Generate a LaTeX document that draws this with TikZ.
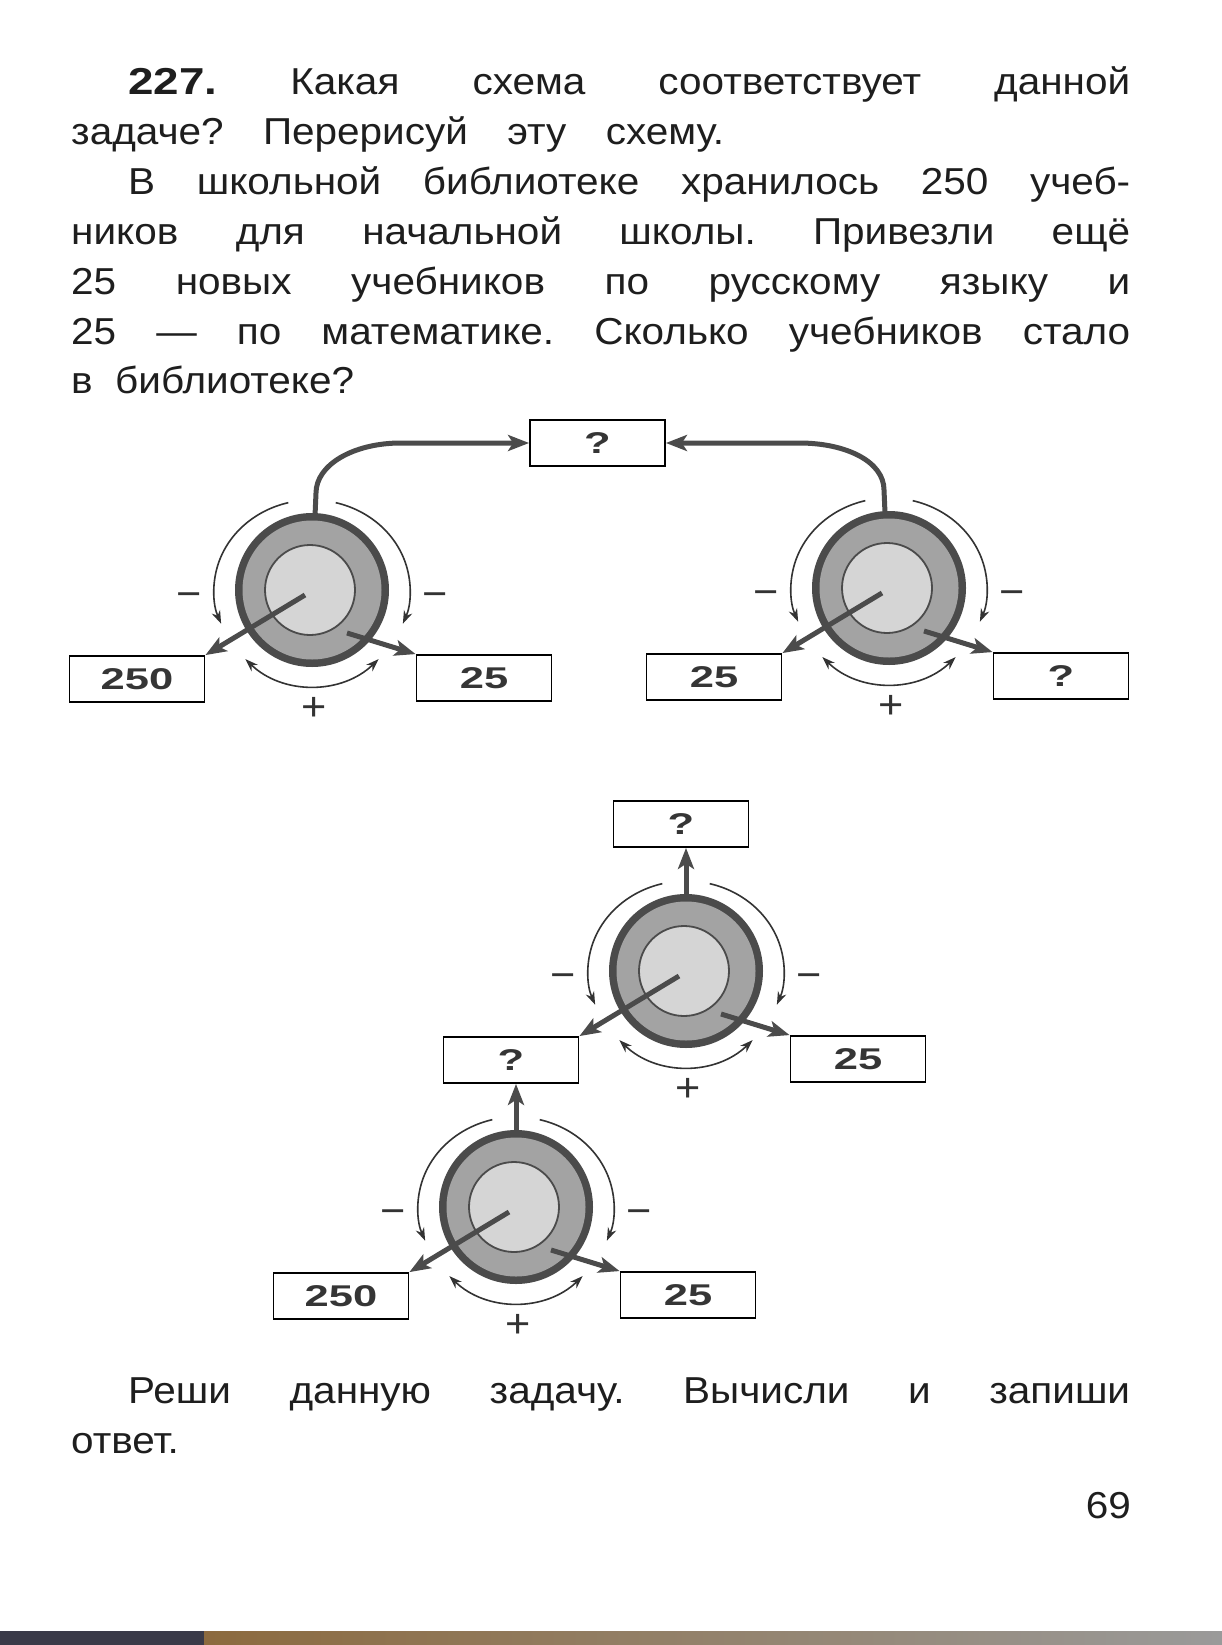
\documentclass[tikz,border=0pt]{standalone}
\usepackage{fontspec}
\setmainfont[FakeStretch=1.08]{Liberation Sans}
\newfontfamily\numfont[FakeStretch=1.22]{Liberation Sans}
\newfontfamily\boxfont[FakeStretch=1.45]{Liberation Sans}
\usetikzlibrary{arrows.meta,calc}
\frenchspacing
\definecolor{txt}{HTML}{1E1E1E}
\definecolor{boxtxt}{HTML}{353535}
\definecolor{ringdark}{HTML}{4B4B4B}
\definecolor{ringmid}{HTML}{A3A3A3}
\definecolor{innerfill}{HTML}{D5D5D5}
\definecolor{arcgray}{HTML}{333333}
\definecolor{stripdark}{HTML}{3A3A48}
\definecolor{stripbrown}{HTML}{8C6A3E}
\definecolor{stripgray}{HTML}{9A9A9A}
\newcommand\diskunit[2]{%
  \coordinate (#1) at (#2);
  \fill[ringdark] (#1) circle (77);
  \fill[ringmid] (#1) circle (69.5);
  \draw[innerc] ($(#1)+(-2,0)$) circle (45);
}
\newcommand\signarcs[1]{%
  \draw[thinarrow] ($(#1)+(104:98 and 90)$) arc[start angle=104, end angle=202, x radius=98, y radius=90];
  \draw[thinarrow] ($(#1)+(76:98 and 90)$) arc[start angle=76, end angle=-22, x radius=98, y radius=90];
  \draw[thinarrow, {Stealth[length=13pt,width=9pt]}-{Stealth[length=13pt,width=9pt]}] ($(#1)+(226:96)$) arc[start angle=226, end angle=314, radius=96];
  \node[sign] (#1m1) at ($(#1)+(-123,-10)$) {−};
  \node[sign] (#1m2) at ($(#1)+(123,-10)$) {−};
  \node[sign] (#1p) at ($(#1)+(2,-119)$) {+};
}
\begin{document}
\begin{tikzpicture}[x=1pt,y=1pt,
  line/.style={anchor=base west, inner sep=0, font=\fontsize{37.5}{45}\selectfont, text=txt},
  numbox/.style={draw=black, line width=1.8, fill=white, minimum width=135, minimum height=46, inner sep=0, font=\boxfont\bfseries\fontsize{30}{30}\selectfont, text=boxtxt},
  innerc/.style={draw=ringdark, line width=1.8, fill=innerfill},
  bigarrow/.style={draw=ringdark, line width=5, line join=round, -{Stealth[length=21pt,width=16pt,inset=5pt]}},
  thinarrow/.style={draw=arcgray, line width=1.6, -{Stealth[length=13pt,width=9pt]}},
  sign/.style={inner sep=0, font=\fontsize{40}{40}\selectfont, text=arcgray}]
\useasboundingbox (0,0) rectangle (1222,-1645);
\fill[white] (0,0) rectangle (1222,-1645);
% scan edge strip
\fill[stripdark] (0,-1631) rectangle (204,-1645);
\shade[left color=stripbrown, right color=stripgray] (204,-1631) rectangle (1222,-1645);

% text
\node[line] (t1) at (128,-95) {\makebox[1002pt][s]{{\numfont\bfseries 227.} Какая схема соответствует данной}};
\node[line] (t2) at (71,-144.8) {\makebox[653pt][s]{задаче? Перерисуй эту схему.}};
\node[line] (t3) at (128,-194.6) {\makebox[1002pt][s]{В школьной библиотеке хранилось 250 учеб-}};
\node[line] (t4) at (71,-244.4) {\makebox[1059pt][s]{ников для начальной школы. Привезли ещё}};
\node[line] (t5) at (71,-294.2) {\makebox[1059pt][s]{25 новых учебников по русскому языку и}};
\node[line] (t6) at (71,-344) {\makebox[1059pt][s]{25 — по математике. Сколько учебников стало}};
\node[line] (t7) at (71,-393.8) {\makebox[283pt][s]{в библиотеке?}};
\node[line] (b1) at (128,-1403.3) {\makebox[1002pt][s]{Реши данную задачу. Вычисли и запиши}};
\node[line] (b2) at (71,-1453.3) {ответ.};
\node[line, anchor=base east] (pg) at (1131,-1518.3) {69};

% disks
\diskunit{C1}{312,-590}
\diskunit{C2}{889,-588}
\diskunit{C3}{686,-971}
\diskunit{C4}{516,-1207}

% boxes
\node[numbox] (T12) at (597.5,-443) {?};
\node[numbox] (L1) at ($(C1)+(-175,-89)$) {250};
\node[numbox] (R1) at ($(C1)+(172,-88)$) {25};
\node[numbox] (L2) at ($(C2)+(-175,-89)$) {25};
\node[numbox] (R2) at ($(C2)+(172,-88)$) {?};
\node[numbox] (T3) at ($(C3)+(-5,147)$) {?};
\node[numbox] (L3) at ($(C3)+(-175,-89)$) {?};
\node[numbox] (R3) at ($(C3)+(172,-88)$) {25};
\node[numbox] (L4) at ($(C4)+(-175,-89)$) {250};
\node[numbox] (R4) at ($(C4)+(172,-88)$) {25};

% radial arrows
\foreach \c/\l/\r in {C1/L1/R1, C2/L2/R2, C3/L3/R3, C4/L4/R4}{
  \draw[bigarrow] ($(\c)+(-7,-5)$) -- (\l.north east);
  \draw[bigarrow] ($(\c)+(35,-43)$) -- (\r.north west);
}

% top connectors
\coordinate (C1top) at ($(C1)+(3,74)$);
\coordinate (C2top) at ($(C2)+(-4,75)$);
\draw[bigarrow] (C1top) -- ++(1,23) .. controls +(0,28) and +(-48,0) .. ($(C1top |- T12.west)+(86,0)$) -- (T12.west);
\draw[bigarrow] (C2top) -- ++(-1,23) .. controls +(0,28) and +(48,0) .. ($(C2top |- T12.east)+(-86,0)$) -- (T12.east);
\draw[bigarrow] ($(C3)+(0,76)$) -- (C3 |- T3.south);
\draw[bigarrow] ($(C4)+(0,76)$) -- (C4 |- L3.south);

% sign arcs
\signarcs{C1}
\signarcs{C2}
\signarcs{C3}
\signarcs{C4}
\end{tikzpicture}
\end{document}
